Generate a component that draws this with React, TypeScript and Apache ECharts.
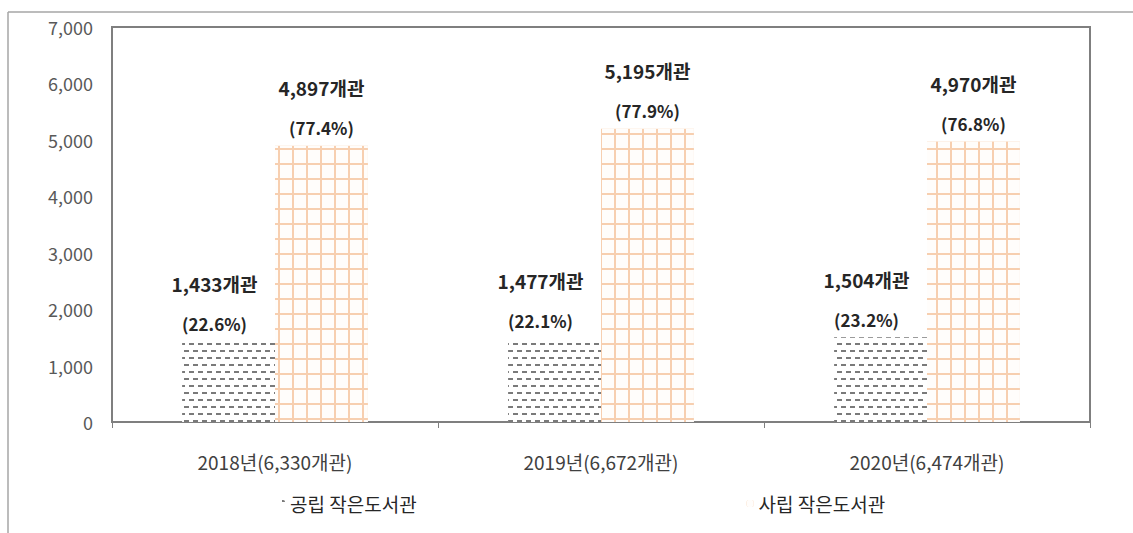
import React, { useEffect, useRef } from "react";
import * as echarts from "echarts";

const years = ["2018", "2019", "2020"];
const totals = [6330, 6672, 6474];
const publicValues = [1433, 1477, 1504];
const privateValues = [4897, 5195, 4970];
const publicPct = ["22.6", "22.1", "23.2"];
const privatePct = ["77.4", "77.9", "76.8"];
const seriesNames = ["공립 작은도서관", "사립 작은도서관"];
const yTicks = { min: 0, max: 7000, interval: 1000 };

const fmt = (v: number) => v.toLocaleString("en-US");
const categories = years.map((y, i) => `${y}년(${fmt(totals[i])}개관)`);

const FONT = "'Noto Sans CJK KR', 'Noto Sans', sans-serif";

export default function App() {
  const ref = useRef<HTMLDivElement>(null);
  useEffect(() => {
    if (!ref.current) return;
    const chart = echarts.init(ref.current, undefined, { renderer: "svg" });
    const labelRich = {
      a: { fontSize: 19, fontWeight: "bold", color: "#262626", fontFamily: FONT, lineHeight: 50 },
      b: { fontSize: 17, fontWeight: "bold", color: "#262626", fontFamily: FONT, lineHeight: 30 },
    };
    chart.setOption({
      animation: false,
      textStyle: { fontFamily: FONT },
      graphic: [
        { type: "line", shape: { x1: 8, y1: 12, x2: 1133, y2: 12 }, style: { stroke: "#a6a6a6", lineWidth: 1.5 } },
        { type: "line", shape: { x1: 8, y1: 12, x2: 8, y2: 533 }, style: { stroke: "#a6a6a6", lineWidth: 1.5 } },
      ],
      grid: { left: 112, right: 43, top: 27, bottom: 111, show: true, borderColor: "#7f7f7f", borderWidth: 2 },
      legend: {
        left: 273,
        top: 489,
        itemGap: 330,
        itemWidth: 7,
        itemHeight: 7,
        textStyle: { fontSize: 19, color: "#262626", fontFamily: FONT },
        data: seriesNames,
      },
      xAxis: {
        type: "category",
        data: categories,
        axisLine: { lineStyle: { color: "#7f7f7f", width: 2 } },
        axisTick: { show: true, length: 6, lineStyle: { color: "#7f7f7f" } },
        axisLabel: { color: "#404040", fontSize: 19, margin: 30, fontFamily: FONT },
      },
      yAxis: {
        type: "value",
        min: yTicks.min,
        max: yTicks.max,
        interval: yTicks.interval,
        splitLine: { show: false },
        axisLine: { show: false },
        axisTick: { show: false },
        axisLabel: { color: "#595959", fontSize: 18, margin: 19, fontFamily: FONT, formatter: (v: number) => fmt(v) },
      },
      series: [
        {
          name: seriesNames[0],
          type: "bar",
          data: publicValues,
          barGap: "0%",
          barCategoryGap: "43%",
          itemStyle: {
            color: "#ffffff",
            decal: {
              symbol: "rect",
              symbolSize: 1,
              color: "#7a7a7a",
              dashArrayX: [[5, 4], [0, 4, 5, 0]],
              dashArrayY: [1.2, 4.3],
              rotation: 0,
            },
          },
          label: {
            show: true,
            position: "top",
            distance: 3,
            offset: [-14, 0],
            formatter: (p: any) => `{a|${fmt(p.value)}개관}\n{b|(${publicPct[p.dataIndex]}%)}`,
            rich: labelRich,
          },
        },
        {
          name: seriesNames[1],
          type: "bar",
          data: privateValues,
          itemStyle: {
            color: "#f7cfb0",
            decal: {
              symbol: "rect",
              symbolSize: 1,
              color: "#fffdfb",
              dashArrayX: [11.5, 1.2],
              dashArrayY: [13, 1.2],
              rotation: 0,
            },
          },
          label: {
            show: true,
            position: "top",
            distance: 3,
            formatter: (p: any) => `{a|${fmt(p.value)}개관}\n{b|(${privatePct[p.dataIndex]}%)}`,
            rich: labelRich,
          },
        },
      ],
    });
    return () => chart.dispose();
  }, []);
  return <div ref={ref} style={{ position: "fixed", left: 0, top: 0, width: 1133, height: 533, background: "#fff" }} />;
}
